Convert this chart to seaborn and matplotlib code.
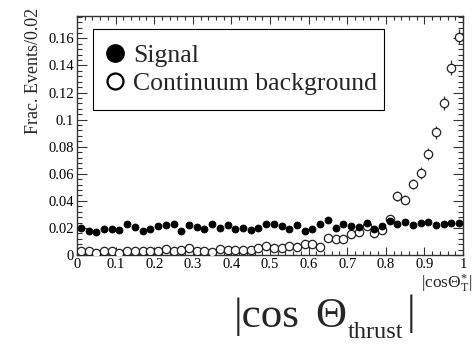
import matplotlib
matplotlib.use('Agg')
import matplotlib.pyplot as plt
from matplotlib.lines import Line2D
from matplotlib.patches import Rectangle
from matplotlib.ticker import MultipleLocator, FuncFormatter
import seaborn as sns
import pandas as pd
import numpy as np

# ---------------- data ----------------
bin_width = 0.02
n_bins = 50
bin_centers = np.arange(n_bins) * bin_width + bin_width / 2

signal = [0.0203, 0.0180, 0.0168, 0.0190, 0.0190, 0.0185, 0.0232, 0.0210, 0.0180, 0.0193,
          0.0212, 0.0220, 0.0230, 0.0178, 0.0222, 0.0210, 0.0195, 0.0232, 0.0203, 0.0218,
          0.0190, 0.0203, 0.0185, 0.0203, 0.0232, 0.0227, 0.0217, 0.0190, 0.0220, 0.0180,
          0.0195, 0.0232, 0.0262, 0.0200, 0.0230, 0.0212, 0.0210, 0.0235, 0.0190, 0.0217,
          0.0254, 0.0230, 0.0244, 0.0225, 0.0237, 0.0242, 0.0222, 0.0230, 0.0240, 0.0240]
signal_err = [0.0010, 0.0010, 0.0010, 0.0010, 0.0010, 0.0010, 0.0011, 0.0010, 0.0010, 0.0010,
              0.0010, 0.0010, 0.0011, 0.0010, 0.0010, 0.0010, 0.0010, 0.0011, 0.0010, 0.0010,
              0.0010, 0.0010, 0.0010, 0.0010, 0.0011, 0.0011, 0.0010, 0.0010, 0.0010, 0.0010,
              0.0010, 0.0011, 0.0011, 0.0010, 0.0011, 0.0010, 0.0010, 0.0011, 0.0010, 0.0010,
              0.0011, 0.0011, 0.0011, 0.0011, 0.0011, 0.0011, 0.0011, 0.0011, 0.0011, 0.0011]

background = [0.0032, 0.0027, 0.0017, 0.0027, 0.0032, 0.0017, 0.0030, 0.0027, 0.0030, 0.0030,
              0.0032, 0.0042, 0.0027, 0.0037, 0.0049, 0.0032, 0.0030, 0.0021, 0.0043, 0.0035,
              0.0037, 0.0040, 0.0040, 0.0049, 0.0069, 0.0052, 0.0049, 0.0069, 0.0057, 0.0079,
              0.0082, 0.0059, 0.0124, 0.0119, 0.0119, 0.0158, 0.0170, 0.0215, 0.0163, 0.0185,
              0.0269, 0.0437, 0.0408, 0.0524, 0.0605, 0.0744, 0.0907, 0.1124, 0.1383, 0.1613]
background_err = [0.0008, 0.0007, 0.0006, 0.0007, 0.0008, 0.0006, 0.0007, 0.0007, 0.0007, 0.0007,
                  0.0008, 0.0009, 0.0007, 0.0008, 0.0009, 0.0008, 0.0007, 0.0006, 0.0009, 0.0008,
                  0.0008, 0.0009, 0.0009, 0.0009, 0.0011, 0.0010, 0.0009, 0.0011, 0.0010, 0.0012,
                  0.0012, 0.0010, 0.0015, 0.0015, 0.0015, 0.0017, 0.0018, 0.0020, 0.0017, 0.0019,
                  0.0023, 0.0036, 0.0035, 0.0040, 0.0043, 0.0045, 0.0048, 0.0052, 0.0056, 0.0058]

x_ticks = [0, 0.1, 0.2, 0.3, 0.4, 0.5, 0.6, 0.7, 0.8, 0.9, 1.0]
y_ticks = [0, 0.02, 0.04, 0.06, 0.08, 0.1, 0.12, 0.14, 0.16]
legend_labels = ["Signal", "Continuum background"]

df = pd.DataFrame({"x": bin_centers, "signal": signal, "signal_err": signal_err,
                   "background": background, "background_err": background_err})

# ---------------- style ----------------
sns.set_theme(style="ticks")
plt.rcParams['font.family'] = ['Liberation Serif', 'DejaVu Serif']
plt.rcParams['mathtext.fontset'] = 'custom'
plt.rcParams['mathtext.rm'] = 'Liberation Serif'
plt.rcParams['mathtext.it'] = 'Liberation Serif:italic'
plt.rcParams['mathtext.bf'] = 'Liberation Serif:bold'

fig = plt.figure(figsize=(4.76, 3.44), dpi=100)
ax = fig.add_axes([77/476, 1-255/344, 386/476, 239/344])

# error bars
ax.errorbar(df["x"], df["signal"], yerr=df["signal_err"], fmt='none',
            ecolor='black', elinewidth=0.9, capsize=0, zorder=2)
ax.errorbar(df["x"], df["background"], yerr=df["background_err"], fmt='none',
            ecolor='#333333', elinewidth=0.9, capsize=0, zorder=2)

sns.scatterplot(data=df, x="x", y="background", marker='o', s=36,
                facecolor='white', edgecolor='#222222', linewidth=0.9, ax=ax, zorder=3)
sns.scatterplot(data=df, x="x", y="signal", marker='o', s=26,
                color='black', edgecolor='black', linewidth=0.5, ax=ax, zorder=4)

ax.set_xlim(0, 1)
ax.set_ylim(0, 0.1765)
ax.set_xticks(x_ticks)
ax.set_yticks(y_ticks)
ax.xaxis.set_minor_locator(MultipleLocator(0.02))
ax.yaxis.set_minor_locator(MultipleLocator(0.004))
fmt = FuncFormatter(lambda v, p: '%g' % round(v, 4))
ax.xaxis.set_major_formatter(fmt)
ax.yaxis.set_major_formatter(fmt)

for s in ax.spines.values():
    s.set_linewidth(1.0)
    s.set_color('#333333')

ax.tick_params(axis='both', which='both', direction='in', top=True, right=True,
               color='#333333', labelsize=10.5, labelcolor='black')
ax.tick_params(axis='x', which='major', length=5.5, width=0.8, pad=2)
ax.tick_params(axis='x', which='minor', length=3, width=0.8)
ax.tick_params(axis='y', which='major', length=7, width=0.8, pad=2)
ax.tick_params(axis='y', which='minor', length=3.5, width=0.8)

ax.set_ylabel("Frac. Events/0.02", fontsize=13, loc='top')
ax.yaxis.set_label_coords(-0.091, 1.033)
ax.set_xlabel(r'$|\mathrm{cos}\Theta^{*}_{\mathrm{T}}|$', fontsize=12.5, loc='right')
ax.xaxis.set_label_coords(1.025, -0.075)
ax.xaxis.label.set_verticalalignment('top')

# legend frame (drawn separately so its padding can match)
ax.add_patch(Rectangle((16/386, 145/239), 291/386, 81/239, transform=ax.transAxes,
                       facecolor='white', edgecolor='black', linewidth=0.8, zorder=5))
handles = [Line2D([], [], linestyle='none', marker='o', markersize=12.5,
                  markerfacecolor='black', markeredgecolor='black'),
           Line2D([], [], linestyle='none', marker='o', markersize=11.5,
                  markerfacecolor='white', markeredgecolor='black', markeredgewidth=1.6)]
leg = ax.legend(handles, legend_labels, loc='upper left', bbox_to_anchor=(27.5/386, 211/239),
                borderaxespad=0, borderpad=0, frameon=False, fontsize=18.5,
                handlelength=0.8, handletextpad=0.3, labelspacing=0.2)
leg.set_zorder(6)

# big axis title below
fig.text(234/476, 1-327/344, "|cos", fontsize=31, ha='left', va='baseline')
fig.text(315/476, 1-327/344, "\u0398", fontsize=31, ha='left', va='baseline')
fig.text(348/476, 1-338/344, "thrust", fontsize=17.5, ha='left', va='baseline')
fig.text(407/476, 1-324/344, "|", fontsize=31, ha='left', va='baseline')

fig.savefig("out.png", dpi=100)
